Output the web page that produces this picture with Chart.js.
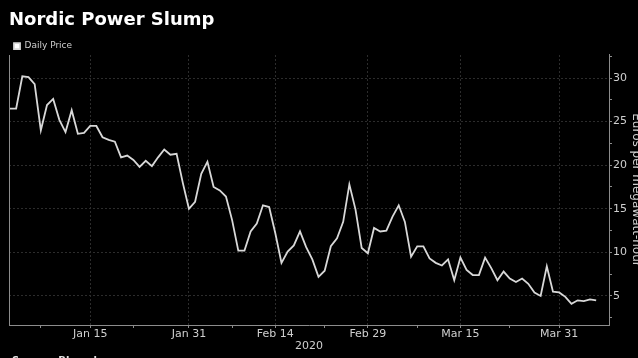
<!DOCTYPE html>
<html>
<head>
<meta charset="utf-8">
<script src="https://cdn.jsdelivr.net/npm/chart.js@4.4.1/dist/chart.umd.min.js"></script>
<style>
  html, body { margin: 0; padding: 0; background: #000; overflow: hidden; }
  #wrap { position: relative; width: 648px; height: 368px; }
</style>
</head>
<body>
<div id="wrap"><canvas id="chart" width="648" height="368"></canvas></div>
<script>
// Nordic system price, euros per MWh, one value per day from Jan 2 to Apr 6 2020
const prices = [
  26.5, 26.5, 30.2, 30.1, 29.3, 24.0, 26.9, 27.6, 25.2, 23.8,
  26.3, 23.6, 23.7, 24.5, 24.5, 23.2, 22.9, 22.7, 20.9, 21.1,
  20.6, 19.8, 20.5, 19.9, 20.9, 21.8, 21.2, 21.3, 18.0, 15.0,
  15.8, 19.0, 20.4, 17.5, 17.1, 16.4, 13.7, 10.2, 10.2, 12.4,
  13.3, 15.4, 15.2, 12.2, 8.8, 10.1, 10.8, 12.4, 10.6, 9.2,
  7.2, 7.9, 10.7, 11.6, 13.5, 17.8, 14.9, 10.5, 9.9, 12.8,
  12.4, 12.5, 14.1, 15.4, 13.5, 9.5, 10.7, 10.7, 9.3, 8.8,
  8.5, 9.2, 6.8, 9.4, 8.0, 7.4, 7.4, 9.4, 8.2, 6.8,
  7.8, 7.0, 6.6, 7.0, 6.4, 5.4, 5.0, 8.4, 5.5, 5.4,
  4.9, 4.1, 4.5, 4.4, 4.6, 4.5
];

// x axis: day number counted from Jan 2
const tickDays = [13, 29, 43, 58, 73, 89];
const tickLabels = ['Jan 15', 'Jan 31', 'Feb 14', 'Feb 29', 'Mar 15', 'Mar 31'];
const minorDays = [5, 20, 36, 51, 66, 81];

// y axis
const yMajor = [5, 10, 15, 20, 25, 30];
const yMinor = [2.5, 7.5, 12.5, 17.5, 22.5, 27.5, 32.5];

const gridColor = '#2c2c2c';
const axisColor = '#8c8c8c';
const textColor = '#cfcfcf';

// left frame line and the cut-off source line under the chart
const extras = {
  id: 'extras',
  beforeDatasetsDraw(chart) {
    const { ctx, chartArea } = chart;
    ctx.save();
    ctx.strokeStyle = axisColor;
    ctx.lineWidth = 1;
    ctx.beginPath();
    ctx.moveTo(chartArea.left + 0.5, chartArea.top);
    ctx.lineTo(chartArea.left + 0.5, chartArea.bottom);
    ctx.stroke();
    ctx.restore();
  },
  afterDraw(chart) {
    const ctx = chart.ctx;
    ctx.save();
    ctx.fillStyle = '#e0e0e0';
    ctx.font = 'bold 10px "DejaVu Sans"';
    ctx.textBaseline = 'top';
    ctx.fillText('Source: Bloomberg', 12, 356);
    ctx.restore();
  }
};

new Chart(document.getElementById('chart'), {
  type: 'line',
  data: {
    datasets: [{
      label: 'Daily Price',
      data: prices.map((v, i) => ({ x: i, y: v })),
      borderColor: '#d8d8d8',
      backgroundColor: '#ffffff',
      borderWidth: 1.8,
      pointRadius: 0,
      tension: 0
    }]
  },
  options: {
    responsive: false,
    animation: false,
    layout: { padding: { left: 9, right: 0, top: 0, bottom: 0 } },
    plugins: {
      title: {
        display: true,
        text: 'Nordic Power Slump',
        align: 'start',
        color: '#ffffff',
        font: { family: 'DejaVu Sans', size: 18, weight: 'bold' },
        padding: { top: 10, bottom: 5 }
      },
      legend: {
        display: true,
        align: 'start',
        maxHeight: 18.4,
        labels: {
          color: textColor,
          font: { family: 'DejaVu Sans', size: 9 },
          boxWidth: 6,
          boxHeight: 6,
          padding: 5
        }
      },
      tooltip: { enabled: false }
    },
    scales: {
      x: {
        type: 'linear',
        min: -0.16,
        max: 97.08,
        afterFit: s => { s.height = 43; },
        afterBuildTicks: s => {
          s.ticks = tickDays.concat(minorDays).sort((a, b) => a - b).map(v => ({ value: v }));
        },
        ticks: {
          autoSkip: false,
          maxRotation: 0,
          padding: 0,
          color: textColor,
          font: { family: 'DejaVu Sans', size: 11 },
          callback: v => {
            const k = tickDays.indexOf(v);
            return k >= 0 ? tickLabels[k] : '';
          }
        },
        grid: {
          color: c => (c.tick && tickDays.includes(c.tick.value)) ? gridColor : 'transparent',
          tickColor: axisColor,
          tickLength: 3,
          lineWidth: 1
        },
        border: { display: true, color: axisColor, width: 1, dash: [2, 2] },
        title: {
          display: true,
          text: '2020',
          color: textColor,
          font: { family: 'DejaVu Sans', size: 11 },
          padding: { top: 0, bottom: 15 }
        }
      },
      y: {
        position: 'right',
        min: 1.67,
        max: 32.64,
        afterFit: s => { s.width = 39; },
        afterBuildTicks: s => {
          s.ticks = yMinor.concat(yMajor).sort((a, b) => a - b).map(v => ({ value: v }));
        },
        ticks: {
          autoSkip: false,
          padding: 1,
          color: textColor,
          font: { family: 'DejaVu Sans', size: 11 },
          callback: v => yMajor.includes(v) ? String(v) : ''
        },
        grid: {
          color: c => (c.tick && yMajor.includes(c.tick.value)) ? gridColor : 'transparent',
          tickColor: axisColor,
          tickLength: 3,
          lineWidth: 1
        },
        border: { display: true, color: axisColor, width: 1, dash: [2, 2] },
        title: {
          display: true,
          text: 'Euros per megawatt-hour',
          color: textColor,
          font: { family: 'DejaVu Sans', size: 12 },
          padding: { top: 5, bottom: 0 }
        }
      }
    }
  },
  plugins: [extras]
});
</script>
</body>
</html>
